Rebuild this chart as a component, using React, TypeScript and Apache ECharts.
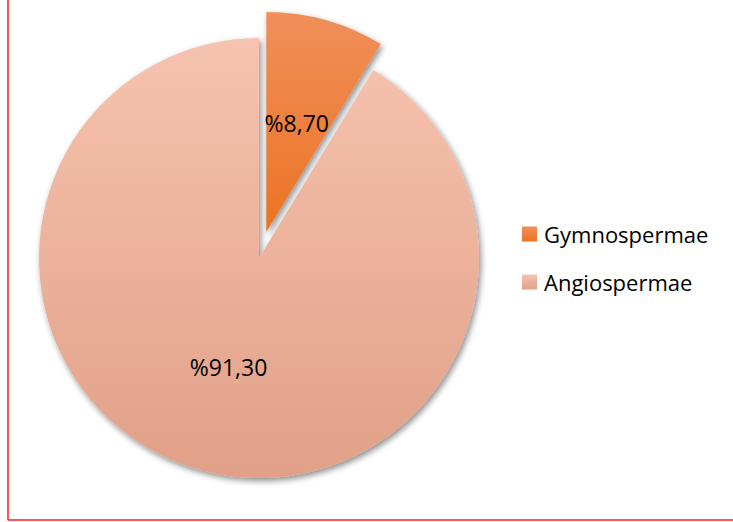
import React, { useEffect, useRef } from "react";
import * as echarts from "echarts";

const categories = ["Gymnospermae", "Angiospermae"];
const values = [8.7, 91.3];
const labelTexts = ["%8,70", "%91,30"];

const gradients = [
  ["#F08F5A", "#EC7323"],
  ["#F6C3B0", "#E1A087"],
];

function grad(i: number) {
  return new echarts.graphic.LinearGradient(0, 0, 0, 1, [
    { offset: 0, color: gradients[i][0] },
    { offset: 1, color: gradients[i][1] },
  ]);
}

export default function App() {
  const ref = useRef<HTMLDivElement>(null);
  useEffect(() => {
    if (!ref.current) return;
    const chart = echarts.init(ref.current, null, { renderer: "svg" });
    const data = categories.map((name, i) => ({
      name,
      value: values[i],
      selected: i === 0,
      itemStyle: { color: grad(i) },
    }));
    chart.setOption({
      animation: false,
      backgroundColor: "#ffffff",
      legend: {
        orient: "vertical",
        left: 522,
        top: 222,
        padding: 0,
        icon: "rect",
        itemWidth: 15,
        itemHeight: 15,
        itemGap: 24,
        selectedMode: false,
        data: categories.map((name, i) => ({
          name,
          itemStyle: { color: grad(i) },
        })),
        textStyle: {
          fontFamily: "Open Sans",
          fontSize: 22,
          lineHeight: 24,
          color: "#000000",
          padding: [0, 0, 0, 2],
        },
      },
      graphic: [
        {
          type: "line",
          shape: { x1: 8, y1: 0, x2: 8, y2: 520 },
          style: { stroke: "#FF2020", lineWidth: 1.5 },
        },
        {
          type: "line",
          shape: { x1: 8, y1: 520, x2: 733, y2: 520 },
          style: { stroke: "#FF2020", lineWidth: 1.5 },
        },
      ],
      series: [
        {
          type: "pie",
          center: [259, 258],
          radius: 220,
          startAngle: 90,
          clockwise: true,
          selectedMode: "single",
          selectedOffset: 27,
          avoidLabelOverlap: false,
          itemStyle: {
            shadowBlur: 6,
            shadowOffsetX: 2,
            shadowOffsetY: 3,
            shadowColor: "rgba(0,0,0,0.45)",
          },
          label: {
            show: true,
            position: "inside",
            formatter: (p: any) => labelTexts[p.dataIndex],
            fontFamily: "Open Sans",
            fontSize: 23,
            color: "#000000",
          },
          labelLine: { show: false },
          emphasis: { disabled: true },
          data,
        },
      ],
    });
    return () => chart.dispose();
  }, []);
  return (
    <div
      ref={ref}
      style={{ position: "fixed", left: 0, top: 0, width: 733, height: 522 }}
    />
  );
}
